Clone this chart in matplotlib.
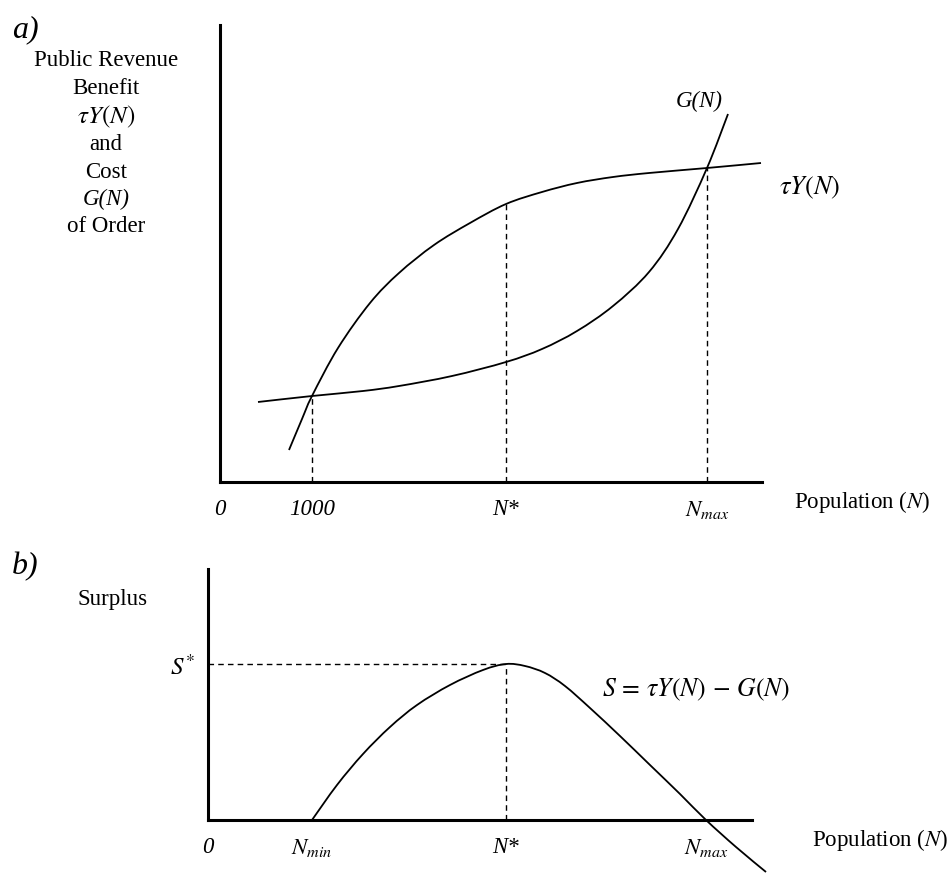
import matplotlib
matplotlib.use("Agg")
import matplotlib.pyplot as plt
from matplotlib.path import Path
from matplotlib.patches import PathPatch

plt.rcParams['font.family'] = ['Liberation Serif', 'DejaVu Serif']
plt.rcParams['mathtext.fontset'] = 'stix'

# ---------------- data (arbitrary units) ----------------
# Panel a: public revenue benefit tau*Y(N) and cost G(N)
tauY_N = [69, 82, 92, 118, 150, 179, 214, 250, 286, 322, 357, 393, 429, 487, 541]
tauY_v = [32, 63, 86, 134, 179, 209, 237, 259, 278, 290, 299, 305, 309, 314, 319]
G_N = [38, 92, 143, 179, 232, 286, 322, 357, 393, 429, 458, 487, 508]
G_v = [80, 86, 91, 96, 106, 120, 133, 151, 176, 210, 253, 314, 368]
a_ticks = [0, 92, 286, 487]
a_ticklabels = ['0', '1000', 'N*', r'$N_{max}$']
a_drop = [86, 278, 314]          # heights of dashed drop lines at 1000, N*, N_max

# Panel b: surplus S = tauY(N) - G(N)
S_N = [104, 129, 155, 182, 209, 242, 275, 298, 317, 337, 357, 382, 412, 442, 472, 498, 528, 558]
S_v = [0, 35, 66, 93, 115, 135, 150, 156, 154, 147, 134, 112, 84, 55, 26, 0, -27, -52]
b_ticks = [0, 104, 298, 498]
b_ticklabels = ['0', r'$N_{min}$', 'N*', r'$N_{max}$']
S_star = 156
N_star_b = 298

y_label_a = ['Public Revenue', 'Benefit', r'$\tau Y(N)$', 'and', 'Cost', 'G(N)', 'of Order']

# ---------------- figure ----------------
W, H = 949, 873
fig = plt.figure(figsize=(W / 100, H / 100), dpi=100)


def px_axes(l, t, r, b):
    return fig.add_axes([l / W, 1 - b / H, (r - l) / W, (b - t) / H])


def ftext(x, y, s, **kw):
    fig.text(x / W, 1 - y / H, s, **kw)


def smooth_curve(ax, xs, ys, **kw):
    """Draw a smooth (Catmull-Rom style Bezier) curve through the read points."""
    pts = list(zip(xs, ys))
    n = len(pts)
    verts = [pts[0]]
    codes = [Path.MOVETO]
    for i in range(n - 1):
        p0 = pts[i - 1] if i > 0 else pts[i]
        p1 = pts[i]
        p2 = pts[i + 1]
        p3 = pts[i + 2] if i + 2 < n else pts[i + 1]
        c1 = (p1[0] + (p2[0] - p0[0]) / 6, p1[1] + (p2[1] - p0[1]) / 6)
        c2 = (p2[0] - (p3[0] - p1[0]) / 6, p2[1] - (p3[1] - p1[1]) / 6)
        verts += [c1, c2, p2]
        codes += [Path.CURVE4] * 3
    patch = PathPatch(Path(verts, codes), fill=False, clip_on=False, **kw)
    ax.add_patch(patch)


FS = 16.5
lw_curve = 1.3
lw_axis = 2.2
dash = (0, (4, 3))

# ---- panel a ----
axA = px_axes(220, 25, 762, 482)
axA.set_xlim(0, 542)
axA.set_ylim(0, 457)
for s in ['top', 'right']:
    axA.spines[s].set_visible(False)
for s in ['left', 'bottom']:
    axA.spines[s].set_linewidth(lw_axis)
smooth_curve(axA, tauY_N, tauY_v, edgecolor='black', lw=lw_curve)
smooth_curve(axA, G_N, G_v, edgecolor='black', lw=lw_curve)
for xv, hv in zip(a_ticks[1:], a_drop):
    axA.plot([xv, xv], [0, hv], color='black', lw=1.0, linestyle=dash)
axA.set_xticks(a_ticks)
axA.set_xticklabels(a_ticklabels, fontsize=FS, fontstyle='italic')
axA.tick_params(axis='x', length=0, pad=12)
axA.set_yticks([])

ftext(12, 30, 'a)', fontsize=23, fontstyle='italic', ha='left', va='center')
ys = [60, 88, 117, 144, 172, 199, 227]
for lab, yy in zip(y_label_a, ys):
    style = 'italic' if lab == 'G(N)' else 'normal'
    size = 18 if lab.startswith('$') else FS
    ftext(106, yy, lab, fontsize=size, ha='center', va='center', fontstyle=style)
ftext(699, 101, 'G(N)', fontsize=FS, fontstyle='italic', ha='center', va='center')
ftext(810, 188, r'$\tau Y(N)$', fontsize=19, ha='center', va='center')
ftext(862, 502, r'Population ($N$)', fontsize=FS, ha='center', va='center')

# ---- panel b ----
axB = px_axes(208, 569, 752, 820)
axB.set_xlim(0, 544)
axB.set_ylim(0, 251)
for s in ['top', 'right']:
    axB.spines[s].set_visible(False)
for s in ['left', 'bottom']:
    axB.spines[s].set_linewidth(lw_axis)
smooth_curve(axB, S_N, S_v, edgecolor='black', lw=lw_curve)
axB.plot([0, N_star_b], [S_star, S_star], color='black', lw=1.0, linestyle=dash)
axB.plot([N_star_b, N_star_b], [0, S_star], color='black', lw=1.0, linestyle=dash)
axB.set_xticks(b_ticks)
axB.set_xticklabels(b_ticklabels, fontsize=FS, fontstyle='italic')
axB.tick_params(axis='x', length=0, pad=12)
axB.set_yticks([])

ftext(12, 567, 'b)', fontsize=23, fontstyle='italic', ha='left', va='center')
ftext(113, 599, 'Surplus', fontsize=FS, ha='center', va='center')
ftext(182, 667, r'$S^{*}$', fontsize=FS + 1.5, ha='center', va='center')
ftext(696, 690, r'$S\,=\,\tau Y(N)\,-\,G(N)$', fontsize=18.5, ha='center', va='center')
ftext(880, 840, r'Population ($N$)', fontsize=FS, ha='center', va='center')

fig.savefig('out.png', dpi=100)
